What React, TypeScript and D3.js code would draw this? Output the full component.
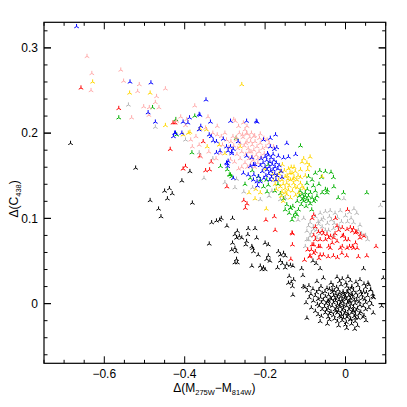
import React from 'react';
import * as d3 from 'd3';

// star groups, values: [Δ(M275W−M814W), Δ(C438)]
const blackStars: [number, number][] = [
  [-0.684,0.188],[-0.522,0.159],[-0.407,0.144],[-0.387,0.155],[-0.450,0.132],[-0.438,0.135],[-0.431,0.129],[-0.443,0.123],
  [-0.486,0.121],[-0.381,0.118],[-0.465,0.111],[-0.459,0.102],[-0.339,0.070],[-0.333,0.095],[-0.321,0.097],[-0.309,0.100],
  [-0.313,0.098],[-0.281,0.100],[-0.295,0.091],[-0.269,0.085],[-0.275,0.081],[-0.264,0.079],[-0.258,0.077],[-0.271,0.077],
  [-0.242,0.088],[-0.225,0.088],[-0.243,0.081],[-0.221,0.077],[-0.281,0.071],[-0.283,0.063],[-0.275,0.065],[-0.272,0.061],
  [-0.246,0.073],[-0.248,0.069],[-0.233,0.067],[-0.229,0.061],[-0.231,0.065],[-0.217,0.057],[-0.200,0.071],[-0.192,0.069],
  [-0.192,0.056],[-0.188,0.050],[-0.196,0.052],[-0.271,0.052],[-0.275,0.048],[-0.269,0.048],[-0.233,0.044],[-0.212,0.044],
  [-0.204,0.042],[-0.208,0.040],[-0.200,0.040],[-0.167,0.061],[-0.162,0.057],[-0.154,0.059],[-0.150,0.056],[-0.169,0.042],
  [-0.162,0.050],[-0.150,0.042],[-0.146,0.046],[-0.157,0.047],[-0.137,0.045],[-0.131,0.044],[-0.140,0.032],[-0.135,0.025],
  [-0.129,0.028],[-0.132,0.020],[-0.142,0.024],[-0.131,0.010],[-0.109,0.041],[-0.106,0.033],[-0.105,0.020],[-0.081,0.050],
  [-0.073,0.047],[-0.063,0.041],[0.045,0.041],
  // main clump
  [-0.055,0.030],[-0.021,0.031],[-0.008,0.029],[0.006,0.031],[0.036,0.028],
  [-0.071,0.026],[-0.036,0.024],[-0.015,0.026],[0.001,0.024],[0.012,0.027],[0.026,0.025],[0.046,0.023],
  [-0.101,0.019],[-0.091,0.021],[-0.061,0.020],[-0.046,0.018],[-0.031,0.021],[-0.022,0.019],[-0.011,0.022],[0.003,0.020],
  [0.015,0.018],[0.031,0.021],[0.050,0.019],[0.058,0.022],
  [-0.095,0.015],[-0.081,0.017],[-0.066,0.016],[-0.051,0.014],[-0.040,0.017],[-0.028,0.015],[-0.018,0.016],[-0.006,0.014],
  [0.008,0.017],[0.020,0.015],[0.035,0.016],[0.045,0.014],[0.062,0.016],
  [-0.086,0.011],[-0.072,0.013],[-0.058,0.012],[-0.042,0.010],[-0.033,0.013],[-0.024,0.011],[-0.014,0.012],[-0.003,0.010],
  [0.006,0.013],[0.014,0.011],[0.026,0.012],[0.040,0.010],[0.052,0.013],[0.068,0.011],
  [-0.090,0.007],[-0.075,0.009],[-0.062,0.007],[-0.050,0.008],[-0.038,0.006],[-0.030,0.009],[-0.020,0.007],[-0.011,0.008],
  [-0.002,0.006],[0.008,0.009],[0.018,0.007],[0.030,0.008],[0.042,0.006],[0.055,0.009],[0.070,0.007],
  [-0.080,0.003],[-0.068,0.005],[-0.055,0.004],[-0.045,0.002],[-0.035,0.005],[-0.025,0.003],[-0.016,0.004],[-0.007,0.002],
  [0.002,0.005],[0.011,0.003],[0.022,0.004],[0.034,0.002],[0.048,0.005],[0.060,0.003],
  [-0.098,0.001],[-0.070,-0.001],[-0.060,0.001],[-0.048,0.000],[-0.040,-0.002],[-0.030,0.001],[-0.020,-0.001],[-0.012,0.000],
  [-0.004,-0.002],[0.005,0.001],[0.014,-0.001],[0.024,0.000],[0.036,-0.002],[0.050,0.001],[0.065,-0.001],[0.090,-0.003],
  [-0.085,-0.005],[-0.065,-0.003],[-0.052,-0.004],[-0.043,-0.006],[-0.033,-0.003],[-0.022,-0.005],[-0.014,-0.004],[-0.005,-0.006],
  [0.003,-0.003],[0.012,-0.005],[0.020,-0.004],[0.030,-0.006],[0.044,-0.003],[0.058,-0.005],
  [-0.075,-0.009],[-0.058,-0.007],[-0.047,-0.008],[-0.036,-0.010],[-0.026,-0.007],[-0.017,-0.009],[-0.008,-0.008],[0.000,-0.010],
  [0.009,-0.007],[0.018,-0.009],[0.027,-0.008],[0.038,-0.010],[0.050,-0.007],
  [-0.068,-0.013],[-0.050,-0.011],[-0.040,-0.012],[-0.030,-0.014],[-0.020,-0.011],[-0.010,-0.013],[-0.002,-0.012],[0.007,-0.014],
  [0.016,-0.011],[0.025,-0.013],[0.035,-0.012],[0.046,-0.014],[0.069,-0.011],
  [-0.096,-0.017],[-0.060,-0.015],[-0.043,-0.016],[-0.027,-0.018],[-0.015,-0.015],[-0.005,-0.017],[0.004,-0.016],[0.013,-0.018],
  [0.022,-0.015],[0.032,-0.017],[0.044,-0.016],
  [-0.063,-0.021],[-0.040,-0.019],[-0.020,-0.021],[-0.008,-0.020],[0.002,-0.022],[0.012,-0.019],[0.024,-0.021],[0.051,-0.020],
  [-0.045,-0.024],[-0.017,-0.026],[0.000,-0.025],[0.015,-0.024],[0.030,-0.026],[0.003,-0.029],[0.023,-0.030],
  [0.094,0.030],[0.056,0.024],[0.063,0.016],[0.068,0.008],
  [-0.026,0.006],[-0.018,0.010],[-0.009,0.004],[0.000,0.008],[0.009,0.002],[0.017,0.010],[-0.015,-0.002],[-0.006,0.012],
  [0.004,0.014],[0.012,0.006],[0.020,-0.008],[-0.024,-0.009],[0.028,0.004],[-0.033,0.016],[0.006,-0.012],[-0.011,-0.016],
  [0.016,0.020],[0.025,-0.017],[-0.042,0.003],[0.038,0.013],
];

const grayStars: [number, number][] = [
  [-0.540,0.233],[-0.473,0.207],[-0.398,0.192],[-0.364,0.177],[-0.352,0.147],[-0.271,0.146],[-0.275,0.136],[-0.231,0.136],
  [-0.253,0.131],[-0.183,0.132],[-0.162,0.122],[-0.150,0.124],[-0.104,0.100],
  [-0.088,0.095],[-0.075,0.102],[-0.063,0.106],[-0.050,0.108],[-0.038,0.109],[-0.026,0.106],[-0.013,0.109],[-0.004,0.123],
  [0.028,0.106],[0.087,0.115],[0.020,0.095],[0.032,0.086],[0.040,0.082],[-0.063,0.082],[-0.042,0.086],[-0.030,0.088],
  [-0.071,0.077],[-0.092,0.075],[-0.100,0.067],[0.021,0.111],
  [-0.080,0.090],[-0.068,0.096],[-0.055,0.100],[-0.045,0.094],[-0.035,0.098],[-0.020,0.101],[-0.010,0.096],[0.000,0.103],
  [0.010,0.107],[0.005,0.096],[-0.058,0.090],[-0.050,0.086],[-0.030,0.080],[-0.085,0.083],[0.050,0.080],[0.055,0.075],
  [-0.092,0.091],[-0.096,0.085],[-0.079,0.087],[-0.067,0.093],[-0.088,0.079],[-0.096,0.075],
  [-0.040,0.102],[-0.028,0.094],[-0.016,0.090],[-0.060,0.098],[-0.072,0.086],[0.014,0.100],[0.036,0.092],[-0.118,0.098],
  [-0.212,0.122],[-0.190,0.126],[-0.300,0.142],[-0.330,0.170],
];

const redStars: [number, number][] = [
  [-0.658,0.253],[-0.564,0.229],[-0.429,0.212],[-0.424,0.212],[-0.436,0.181],[-0.354,0.190],[-0.362,0.173],[-0.404,0.158],
  [-0.398,0.161],[-0.348,0.156],[-0.338,0.157],[-0.334,0.166],[-0.295,0.137],[-0.253,0.121],[-0.245,0.117],[-0.249,0.112],
  [-0.198,0.098],[-0.177,0.102],[-0.175,0.086],[-0.132,0.082],[-0.132,0.069],[-0.136,0.052],[-0.102,0.051],[-0.088,0.056],
  [-0.075,0.061],[-0.063,0.057],[-0.079,0.104],[0.005,0.110],[0.076,0.067],[0.053,0.056],
  [-0.083,0.100],[-0.075,0.090],[-0.025,0.100],[-0.021,0.091],[-0.008,0.089],[0.004,0.087],[0.012,0.089],[-0.058,0.085],
  [-0.046,0.081],[-0.050,0.075],[-0.037,0.079],[-0.029,0.077],[-0.033,0.071],[-0.021,0.073],[-0.008,0.079],[0.000,0.075],
  [0.017,0.085],[0.025,0.083],[0.037,0.081],[0.046,0.079],[-0.008,0.067],[0.004,0.065],[0.017,0.067],[0.029,0.065],
  [-0.079,0.069],[-0.067,0.067],[-0.042,0.067],
  [-0.089,0.055],[-0.079,0.059],[-0.066,0.053],[-0.055,0.057],[-0.043,0.055],[-0.030,0.056],[-0.020,0.054],[-0.009,0.059],
  [0.003,0.056],[0.032,0.055],[-0.063,0.067],[-0.038,0.065],[-0.013,0.065],[0.010,0.067],[0.020,0.065],[0.025,0.071],
  [0.036,0.077],[0.028,0.084],[0.020,0.088],[0.007,0.075],[-0.005,0.080],[-0.017,0.086],[-0.026,0.082],[-0.042,0.077],
  [-0.055,0.082],[-0.067,0.084],[-0.079,0.080],[-0.075,0.075],[-0.063,0.075],[-0.083,0.069],[-0.094,0.063],[-0.085,0.063],
  [-0.133,0.083],
];

const greenStars: [number, number][] = [
  [-0.480,0.230],[-0.564,0.218],[-0.375,0.220],[-0.422,0.216],[-0.420,0.198],[-0.382,0.177],[-0.311,0.161],[-0.286,0.151],
  [-0.294,0.157],[-0.289,0.151],[-0.283,0.149],[-0.272,0.194],[-0.237,0.147],[-0.217,0.149],[-0.212,0.145],[-0.196,0.145],
  [-0.204,0.137],[-0.192,0.139],[-0.192,0.163],[-0.195,0.131],[-0.162,0.129],[-0.154,0.123],[-0.150,0.110],[-0.137,0.112],
  [-0.129,0.102],[-0.131,0.114],[-0.112,0.185],[-0.075,0.153],[-0.064,0.156],[-0.050,0.155],[-0.036,0.154],[-0.005,0.130],
  [0.053,0.130],[-0.045,0.133],[-0.029,0.137],[-0.092,0.149],[-0.083,0.145],[-0.096,0.141],[-0.075,0.132],[-0.050,0.134],
  [-0.046,0.130],[-0.146,0.116],[-0.137,0.112],[-0.117,0.110],[-0.125,0.106],[-0.108,0.122],[-0.104,0.124],
  [-0.108,0.128],[-0.100,0.126],[-0.096,0.122],[-0.092,0.120],[-0.104,0.120],[-0.083,0.124],[-0.079,0.120],[-0.075,0.122],
  [-0.092,0.126],[-0.100,0.130],[-0.087,0.130],[-0.071,0.126],[-0.110,0.116],[-0.098,0.114],[-0.088,0.117],[-0.115,0.126],
  [-0.084,0.110],
  [-0.120,0.120],[-0.113,0.132],[-0.095,0.134],[-0.080,0.138],[-0.066,0.140],[-0.058,0.130],[-0.140,0.106],[-0.133,0.098],
  [-0.121,0.104],[-0.168,0.140],[-0.176,0.132],[-0.250,0.140],[-0.232,0.156],[-0.030,0.148],[-0.018,0.124],[-0.060,0.148],
];

const yellowStars: [number, number][] = [
  [-0.629,0.260],[-0.537,0.247],[-0.486,0.247],[-0.448,0.209],[-0.258,0.257],[-0.391,0.200],[-0.346,0.204],[-0.344,0.184],
  [-0.314,0.186],[-0.225,0.123],[-0.197,0.111],[-0.223,0.134],[-0.088,0.172],[-0.108,0.166],[-0.094,0.157],[-0.179,0.145],
  [-0.162,0.137],[-0.150,0.130],[-0.146,0.141],[-0.104,0.170],[-0.096,0.165],[-0.112,0.157],[-0.058,0.149],[-0.157,0.163],
  [-0.142,0.158],[-0.162,0.155],[-0.133,0.153],[-0.125,0.155],[-0.150,0.149],[-0.137,0.145],[-0.129,0.141],[-0.121,0.145],
  [-0.167,0.145],[-0.112,0.141],[-0.104,0.135],[-0.142,0.133],[-0.158,0.131],[-0.146,0.128],[-0.137,0.124],
  [-0.170,0.150],[-0.155,0.140],[-0.145,0.150],[-0.135,0.160],[-0.128,0.148],[-0.118,0.150],[-0.140,0.138],[-0.132,0.132],
  [-0.120,0.136],[-0.175,0.140],[-0.150,0.135],[-0.124,0.127],[-0.116,0.130],
  [-0.404,0.198],[-0.387,0.201],[-0.362,0.205],[-0.262,0.184],
  [-0.165,0.152],[-0.158,0.145],[-0.152,0.156],[-0.143,0.146],[-0.138,0.153],[-0.130,0.146],[-0.126,0.137],[-0.112,0.148],
  [-0.108,0.137],[-0.100,0.150],[-0.172,0.134],[-0.160,0.126],[-0.155,0.120],[-0.181,0.152],[-0.090,0.162],[-0.128,0.160],
  [-0.300,0.176],[-0.240,0.130],[-0.212,0.130],[-0.200,0.158],
];

const pinkStars: [number, number][] = [
  [-0.643,0.290],[-0.631,0.270],[-0.633,0.250],[-0.559,0.274],[-0.552,0.261],[-0.513,0.257],[-0.517,0.249],[-0.448,0.252],
  [-0.470,0.243],[-0.473,0.236],[-0.502,0.231],[-0.488,0.230],[-0.464,0.230],[-0.375,0.232],[-0.489,0.221],[-0.532,0.218],
  [-0.410,0.219],[-0.398,0.209],[-0.385,0.192],[-0.381,0.184],[-0.360,0.172],[-0.342,0.219],[-0.336,0.166],[-0.319,0.208],
  [-0.311,0.176],[-0.278,0.216],[-0.274,0.214],[-0.266,0.208],[-0.245,0.208],[-0.250,0.204],[-0.271,0.195],[-0.319,0.198],
  [-0.309,0.196],[-0.364,0.186],[-0.245,0.199],[-0.228,0.196],[-0.212,0.199],[-0.203,0.194],[-0.195,0.192],[-0.179,0.184],
  [-0.286,0.169],
  [-0.285,0.190],[-0.278,0.185],[-0.272,0.192],[-0.268,0.182],[-0.262,0.188],[-0.258,0.178],[-0.255,0.195],[-0.252,0.185],
  [-0.248,0.175],[-0.245,0.190],[-0.242,0.182],[-0.240,0.170],[-0.238,0.195],[-0.235,0.178],[-0.232,0.186],[-0.230,0.168],
  [-0.228,0.180],[-0.225,0.190],[-0.222,0.174],[-0.220,0.184],[-0.218,0.165],[-0.215,0.178],[-0.212,0.188],[-0.210,0.172],
  [-0.206,0.182],[-0.202,0.176],[-0.250,0.165],[-0.244,0.160],[-0.236,0.163],[-0.262,0.170],[-0.270,0.175],[-0.256,0.198],
  [-0.246,0.200],[-0.234,0.200],[-0.226,0.197],[-0.214,0.194],[-0.280,0.196],[-0.290,0.183],[-0.226,0.160],[-0.258,0.160],
  [-0.264,0.200],[-0.232,0.172],[-0.248,0.188],[-0.240,0.178],[-0.218,0.170],[-0.236,0.190],
  [-0.300,0.200],[-0.296,0.192],[-0.306,0.186],[-0.330,0.200],[-0.348,0.206],[-0.372,0.196],[-0.395,0.216],[-0.420,0.214],
  [-0.340,0.178],[-0.322,0.170],[-0.276,0.166],[-0.266,0.158],[-0.198,0.184],[-0.190,0.188],[-0.254,0.212],
];

const blueStars: [number, number][] = [
  [-0.669,0.325],[-0.536,0.260],[-0.484,0.259],[-0.491,0.224],[-0.473,0.213],[-0.347,0.239],[-0.404,0.213],[-0.425,0.200],
  [-0.428,0.196],[-0.392,0.212],[-0.364,0.222],[-0.336,0.213],[-0.339,0.198],[-0.334,0.196],[-0.329,0.191],[-0.321,0.190],
  [-0.312,0.179],[-0.321,0.177],[-0.286,0.214],[-0.246,0.214],[-0.222,0.214],[-0.292,0.179],[-0.283,0.176],[-0.279,0.181],
  [-0.296,0.165],[-0.292,0.167],[-0.267,0.190],[-0.204,0.192],[-0.187,0.194],[-0.187,0.184],[-0.177,0.181],[-0.171,0.183],
  [-0.146,0.188],[-0.167,0.173],[-0.154,0.171],[-0.142,0.172],[-0.229,0.163],[-0.225,0.163],[-0.237,0.161],[-0.246,0.173],
  [-0.233,0.171],[-0.254,0.153],[-0.242,0.151],[-0.279,0.147],[-0.229,0.145],[-0.219,0.138],[-0.228,0.151],[-0.216,0.149],
  [-0.220,0.143],[-0.212,0.143],[-0.174,0.198],[-0.124,0.175],[-0.220,0.213],[-0.360,0.208],[-0.364,0.204],[-0.304,0.193],
  [-0.286,0.184],[-0.283,0.178],[-0.296,0.184],[-0.294,0.164],[-0.293,0.161],[-0.423,0.200],[-0.407,0.200],[-0.388,0.218],
  [-0.362,0.221],
  [-0.210,0.170],[-0.205,0.165],[-0.200,0.172],[-0.196,0.168],[-0.192,0.174],[-0.188,0.166],[-0.185,0.171],[-0.182,0.163],
  [-0.178,0.168],[-0.175,0.160],[-0.172,0.165],[-0.168,0.158],[-0.165,0.162],[-0.200,0.160],[-0.195,0.157],[-0.190,0.160],
  [-0.186,0.155],[-0.180,0.157],[-0.176,0.152],[-0.170,0.150],[-0.207,0.155],[-0.198,0.150],[-0.191,0.152],[-0.184,0.148],
  [-0.160,0.155],[-0.158,0.148],[-0.194,0.176],[-0.180,0.175],[-0.212,0.162],[-0.203,0.147],[-0.188,0.145],[-0.173,0.145],
];

const xMajor = [-0.6, -0.4, -0.2, 0];
const xLabels = ['\u22120.6', '\u22120.4', '\u22120.2', '0'];
const yMajor = [0, 0.1, 0.2, 0.3];
const yLabels = ['0', '0.1', '0.2', '0.3'];

const W = 407;
const H = 407;
const margin = { top: 22.3, right: 21.3, bottom: 43.7, left: 44 };

export default function App() {
  const x = d3.scaleLinear().domain([-0.75, 0.1]).range([margin.left, W - margin.right]);
  const y = d3.scaleLinear().domain([-0.07, 0.33]).range([H - margin.bottom, margin.top]);

  const xMinor = d3.range(-0.75, 0.1001, 0.05);
  const yMinor = d3.range(-0.06, 0.33, 0.02);

  const groups: { pts: [number, number][]; color: string }[] = [
    { pts: blackStars, color: '#000000' },
    { pts: grayStars, color: '#b4b4b4' },
    { pts: redStars, color: '#ff0000' },
    { pts: greenStars, color: '#00b000' },
    { pts: yellowStars, color: '#ffd700' },
    { pts: pinkStars, color: '#ffaaaa' },
    { pts: blueStars, color: '#0000ff' },
  ];

  const r = 2.6;
  const star = `M0,0L0,${-r}M0,0L${-r * 0.87},${r * 0.5}M0,0L${r * 0.87},${r * 0.5}`;

  const x0 = margin.left, x1 = W - margin.right;
  const y0 = margin.top, y1 = H - margin.bottom;
  const font = '"Liberation Sans", Arial, Helvetica, sans-serif';

  return (
    <svg width={W} height={H} style={{ position: 'absolute', left: 0, top: 0, background: '#fff' }} fontFamily={font}>
      <rect x={0} y={0} width={W} height={H} fill="#fff" />
      {/* points */}
      {groups.map((g, gi) => (
        <g key={gi} stroke={g.color} strokeWidth={1} fill="none">
          {g.pts.map((p, i) => (
            <path key={i} d={star} transform={`translate(${x(p[0])},${y(p[1])})`} />
          ))}
        </g>
      ))}
      {/* ticks, all four sides, inward */}
      <g stroke="#000" strokeWidth={1}>
        {xMinor.map((v, i) => {
          const major = xMajor.some(m => Math.abs(m - v) < 1e-6);
          const len = major ? 7 : 3.5;
          return (
            <g key={'xm' + i}>
              <line x1={x(v)} x2={x(v)} y1={y1} y2={y1 - len} />
              <line x1={x(v)} x2={x(v)} y1={y0} y2={y0 + len} />
            </g>
          );
        })}
        {yMinor.map((v, i) => {
          const major = yMajor.some(m => Math.abs(m - v) < 1e-6);
          const len = major ? 7 : 3.5;
          return (
            <g key={'ym' + i}>
              <line x1={x0} x2={x0 + len} y1={y(v)} y2={y(v)} />
              <line x1={x1} x2={x1 - len} y1={y(v)} y2={y(v)} />
            </g>
          );
        })}
        {yMajor.map((v, i) => (
          <g key={'yM' + i}>
            <line x1={x0} x2={x0 + 7} y1={y(v)} y2={y(v)} />
            <line x1={x1} x2={x1 - 7} y1={y(v)} y2={y(v)} />
          </g>
        ))}
      </g>
      <rect x={x0} y={y0} width={x1 - x0} height={y1 - y0} fill="none" stroke="#000" strokeWidth={1.2} />
      {/* tick labels */}
      <g fontSize={12} fill="#000">
        {xMajor.map((v, i) => (
          <text key={i} x={x(v)} y={y1 + 14.5} textAnchor="middle">{xLabels[i]}</text>
        ))}
        {yMajor.map((v, i) => (
          <text key={i} x={x0 - 6} y={y(v) + 4.3} textAnchor="end">{yLabels[i]}</text>
        ))}
      </g>
      {/* axis titles */}
      <text x={(x0 + x1) / 2 - 0.5} y={y1 + 29} textAnchor="middle" fontSize={12}>
        Δ(M<tspan fontSize={7.5} dy={3}>275W</tspan><tspan dy={-3}>−M</tspan><tspan fontSize={7.5} dy={3}>814W</tspan><tspan dy={-3}>)</tspan>
      </text>
      <text transform={`translate(18,${(y0 + y1) / 2 + 6}) rotate(-90)`} textAnchor="middle" fontSize={12}>
        Δ(C<tspan fontSize={7.5} dy={3}>438</tspan><tspan dy={-3}>)</tspan>
      </text>
    </svg>
  );
}
